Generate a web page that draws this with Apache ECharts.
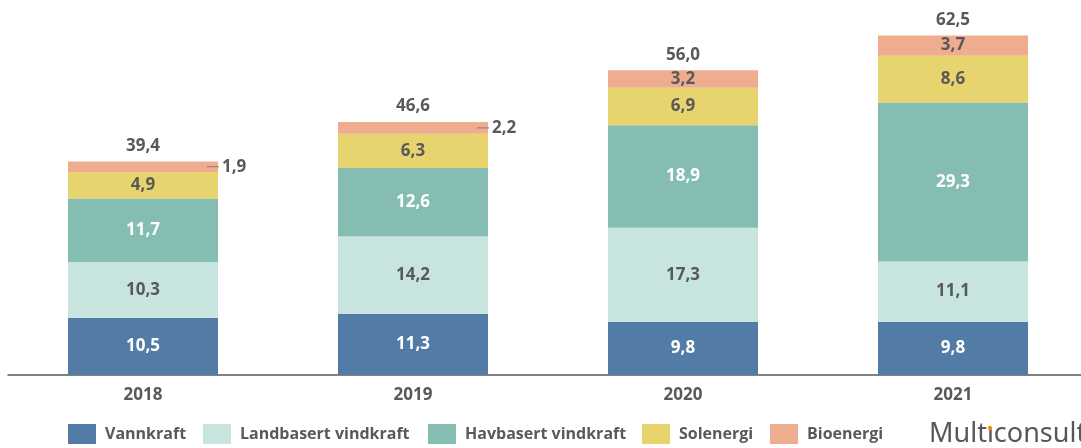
<!DOCTYPE html>
<html><head><meta charset="utf-8">
<script src="https://cdn.jsdelivr.net/npm/echarts@6/dist/echarts.min.js"></script>
<style>html,body{margin:0;padding:0;background:#fff}#c{width:1081px;height:448px}</style>
</head><body><div id="c"></div>
<script>
const categories = ['2018', '2019', '2020', '2021'];
const vannkraft = [10.5, 11.3, 9.8, 9.8];
const landbasert = [10.3, 14.2, 17.3, 11.1];
const havbasert = [11.7, 12.6, 18.9, 29.3];
const solenergi = [4.9, 6.3, 6.9, 8.6];
const bioenergi = [1.9, 2.2, 3.2, 3.7];
const totals = [39.4, 46.6, 56.0, 62.5];
const seriesNames = ['Vannkraft', 'Landbasert vindkraft', 'Havbasert vindkraft', 'Solenergi', 'Bioenergi'];
const colors = ['#527ca5', '#c7e4df', '#86bdb3', '#e8d46f', '#f0ac8f'];
const labelColors = ['#ffffff', '#595959', '#ffffff', '#595959', '#595959'];
const legendLefts = [68, 203, 428, 642, 770];

const fmt = v => v.toFixed(1).replace('.', ',');
const FONT = '"Open Sans", "Liberation Sans", sans-serif';

const chart = echarts.init(document.getElementById('c'), null, {renderer: 'canvas'});
const dataSets = [vannkraft, landbasert, havbasert, solenergi, bioenergi];
const series = dataSets.map((d, i) => ({
  name: seriesNames[i],
  type: 'bar',
  stack: 'total',
  barWidth: 150,
  itemStyle: {color: colors[i]},
  data: d.map((v, j) => {
    const item = {value: v};
    if (i === 4 && v < 3) {
      item.label = {
        position: 'right', distance: -11,
        formatter: '{l|}{v|' + fmt(v) + '}',
        rich: {
          l: {width: 12, height: 1, backgroundColor: '#7f7f7f'},
          v: {fontSize: 17, fontWeight: 'bold', color: '#595959', fontFamily: FONT, padding: [0, 0, 0, 3]}
        }
      };
    }
    return item;
  }),
  label: {
    show: true, position: 'inside',
    color: labelColors[i], fontSize: 17, fontWeight: 'bold', fontFamily: FONT,
    formatter: p => fmt(p.value)
  },
  emphasis: {disabled: true}
}));
series.push({
  name: 'Total', type: 'bar', stack: 'total', barWidth: 150,
  data: totals.map(() => 0), silent: true,
  itemStyle: {color: 'rgba(0,0,0,0)'},
  label: {show: true, position: 'top', distance: 7, color: '#595959', fontSize: 17, fontWeight: 'bold', fontFamily: FONT,
    formatter: p => fmt(totals[p.dataIndex])},
  emphasis: {disabled: true}
});

chart.setOption({
  animation: false,
  grid: {left: 8, top: 22, height: 353, width: 1080, outerBoundsMode: 'none', containLabel: false},
  legend: seriesNames.map((n, i) => ({
    data: [n], left: legendLefts[i], top: 424,
    itemWidth: 28, itemHeight: 20, itemGap: 0, icon: 'rect', padding: 0,
    selectedMode: false,
    textStyle: {fontSize: 16, fontWeight: 'bold', color: '#595959', fontFamily: FONT, padding: [0, 0, 0, 4]}
  })),
  xAxis: {
    type: 'category', data: categories,
    axisLine: {lineStyle: {color: '#595959', width: 1.5}},
    axisTick: {show: false},
    axisLabel: {fontSize: 17, fontWeight: 'bold', color: '#595959', fontFamily: FONT, margin: 12}
  },
  yAxis: {type: 'value', min: 0, max: 65, show: false, splitLine: {show: false}},
  graphic: [{
    type: 'text', left: 929, top: 421,
    style: {text: 'Mult\u0131consult', fontSize: 27, fill: '#575757', fontFamily: '"Noto Sans", sans-serif'}
  }, {
    type: 'circle', shape: {cx: 990, cy: 428, r: 2.2}, style: {fill: '#f39200'}
  }],
  series: series
});
</script></body></html>
